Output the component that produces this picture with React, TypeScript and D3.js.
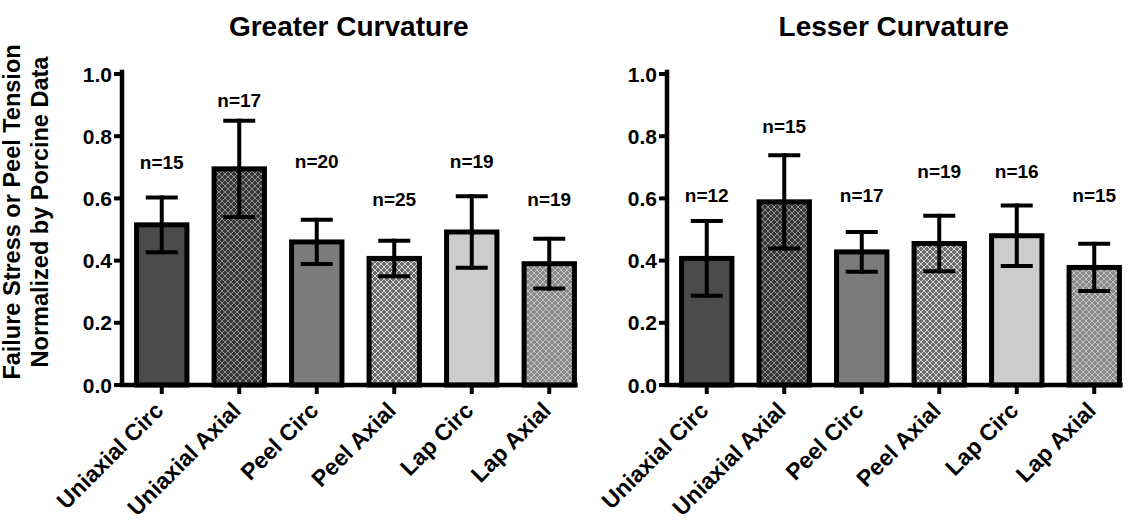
import React from "react";
import * as d3 from "d3";

// Groups measured in both curvature regions
const categories = ["Uniaxial Circ", "Uniaxial Axial", "Peel Circ", "Peel Axial", "Lap Circ", "Lap Axial"];

// Greater curvature: normalized mean, SEM, sample size, label anchor (value units)
const greaterMean = [0.515, 0.695, 0.46, 0.407, 0.492, 0.39];
const greaterSem = [0.088, 0.155, 0.071, 0.057, 0.115, 0.08];
const greaterN = [15, 17, 20, 25, 19, 19];
const greaterLabelAt = [0.715, 0.915, 0.72, 0.595, 0.72, 0.595];

// Lesser curvature
const lesserMean = [0.407, 0.589, 0.428, 0.455, 0.48, 0.378];
const lesserSem = [0.12, 0.15, 0.064, 0.089, 0.097, 0.076];
const lesserN = [12, 15, 17, 19, 16, 15];
const lesserLabelAt = [0.61, 0.83, 0.61, 0.686, 0.686, 0.61];

const yTicks = [0, 0.2, 0.4, 0.6, 0.8, 1.0];

const W = 1133;
const H = 523;
const FONT = "'Liberation Sans', Arial, Helvetica, sans-serif";

type Fill = { bg: string; cross?: string };
const fills: Fill[] = [
  { bg: "#4b4b4b" },
  { bg: "#8e8e8e", cross: "#383838" },
  { bg: "#7b7b7b" },
  { bg: "#d6d6d6", cross: "#6c6c6c" },
  { bg: "#cccccc" },
  { bg: "#c4c4c4", cross: "#8a8a8a" },
];

const fillRef = (i: number) => (fills[i].cross ? `url(#cross-${i})` : fills[i].bg);

function CrossPattern({ id, bg, cross }: { id: string; bg: string; cross: string }) {
  const plus = (cx: number, cy: number, k: number) => (
    <g key={k} fill={cross}>
      <rect x={cx - 2} y={cy - 1} width={4} height={2} />
      <rect x={cx - 1} y={cy - 2} width={2} height={4} />
    </g>
  );
  const centers = [
    [3, 3],
    [0, 0],
    [6, 0],
    [0, 6],
    [6, 6],
  ];
  return (
    <pattern id={id} width={6} height={6} patternUnits="userSpaceOnUse">
      <rect width={6} height={6} fill={bg} />
      {centers.map(([cx, cy], k) => plus(cx, cy, k))}
    </pattern>
  );
}

function Panel({
  x0,
  title,
  means,
  sems,
  ns,
  labelAt,
}: {
  x0: number;
  title: string;
  means: number[];
  sems: number[];
  ns: number[];
  labelAt: number[];
}) {
  const y = d3.scaleLinear().domain([0, 1]).range([385, 74]);
  const x = d3
    .scaleBand<string>()
    .domain(categories)
    .range([x0 + 1, x0 + 466])
    .paddingInner(0.35)
    .paddingOuter(0.175);
  const bw = x.bandwidth();
  const lastRight = (x(categories[categories.length - 1]) ?? 0) + bw;
  const axisEnd = lastRight + 1;
  const fmt = d3.format(".1f");
  const cap = 14;

  return (
    <g>
      <text
        x={(x0 + axisEnd) / 2}
        y={36}
        textAnchor="middle"
        fontFamily={FONT}
        fontWeight="bold"
        fontSize={28}
      >
        {title}
      </text>

      {categories.map((c, i) => {
        const bx = x(c) ?? 0;
        const cx = bx + bw / 2;
        const hi = y(means[i] + sems[i]);
        const lo = y(means[i] - sems[i]);
        return (
          <g key={c}>
            <rect
              x={bx}
              y={y(means[i])}
              width={bw}
              height={y(0) - y(means[i])}
              fill={fillRef(i)}
              stroke="#000"
              strokeWidth={5}
            />
            <g stroke="#000" strokeWidth={4} strokeLinecap="square">
              <line x1={cx} x2={cx} y1={hi} y2={lo} />
              <line x1={cx - cap} x2={cx + cap} y1={hi} y2={hi} />
              <line x1={cx - cap} x2={cx + cap} y1={lo} y2={lo} />
            </g>
            <text
              x={cx}
              y={y(labelAt[i]) + 6.5}
              textAnchor="middle"
              fontFamily={FONT}
              fontWeight="bold"
              fontSize={19}
            >
              {`n=${ns[i]}`}
            </text>
            <line x1={cx} x2={cx} y1={y(0)} y2={y(0) + 9} stroke="#000" strokeWidth={4} />
            <text
              transform={`translate(${cx + 3},${y(0) + 27}) rotate(-45)`}
              textAnchor="end"
              fontFamily={FONT}
              fontWeight="bold"
              fontSize={23}
            >
              {c}
            </text>
          </g>
        );
      })}

      {/* axes */}
      <path
        d={`M${x0},${y(1) - 2}V${y(0)}H${axisEnd}`}
        fill="none"
        stroke="#000"
        strokeWidth={4.5}
        strokeLinecap="square"
      />
      {yTicks.map((t) => (
        <g key={t}>
          <line x1={x0 - 8} x2={x0} y1={y(t)} y2={y(t)} stroke="#000" strokeWidth={4} />
          <text
            x={x0 - 10}
            y={y(t) + 7.5}
            textAnchor="end"
            fontFamily={FONT}
            fontWeight="bold"
            fontSize={21}
          >
            {fmt(t)}
          </text>
        </g>
      ))}
    </g>
  );
}

export default function App() {
  return (
    <svg
      width={W}
      height={H}
      viewBox={`0 0 ${W} ${H}`}
      style={{ position: "absolute", left: 0, top: 0, background: "#fff" }}
    >
      <defs>
        {fills.map((f, i) =>
          f.cross ? <CrossPattern key={i} id={`cross-${i}`} bg={f.bg} cross={f.cross} /> : null
        )}
      </defs>
      <rect width={W} height={H} fill="#fff" />
      <g fontFamily={FONT} fontWeight="bold" fontSize={23.5} textAnchor="middle">
        <text transform="translate(20,212) rotate(-90)">Failure Stress or Peel Tension</text>
        <text transform="translate(48,212) rotate(-90)">Normalized by Porcine Data</text>
      </g>
      <Panel
        x0={122}
        title="Greater Curvature"
        means={greaterMean}
        sems={greaterSem}
        ns={greaterN}
        labelAt={greaterLabelAt}
      />
      <Panel
        x0={667}
        title="Lesser Curvature"
        means={lesserMean}
        sems={lesserSem}
        ns={lesserN}
        labelAt={lesserLabelAt}
      />
    </svg>
  );
}
